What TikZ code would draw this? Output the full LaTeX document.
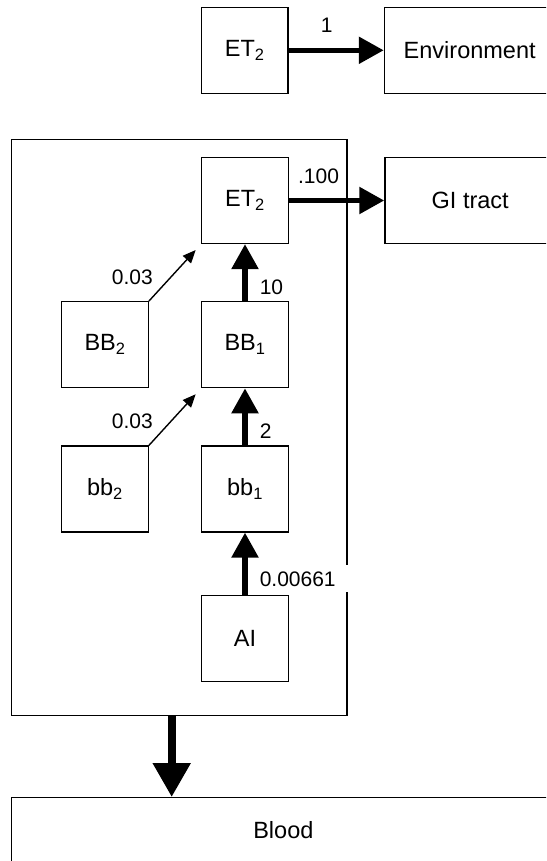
\documentclass[tikz,border=0pt]{standalone}
\usepackage{fontspec}
\setmainfont{Liberation Sans}
\usepackage{tikz}
\usetikzlibrary{arrows.meta, positioning}

\begin{document}
\begin{tikzpicture}[x=1pt, y=-1pt,
    box/.style={draw, rectangle, line width=1.3pt, minimum width=86.6pt, minimum height=86pt, inner sep=0pt, font=\fontsize{23.5}{28}\selectfont},
    wide/.style={box, minimum width=170.6pt},
    lbl/.style={inner sep=2pt, font=\fontsize{21}{25}\selectfont},
    flowarr/.style={line width=5.5pt, -{Triangle[length=25pt, width=26pt]}},
    sidearr/.style={line width=1.4pt, shorten >=8pt, -{Triangle[length=13pt, width=11pt]}},
    bloodarr/.style={line width=8pt, -{Triangle[length=34pt, width=36pt]}}]
  \useasboundingbox (0,0) rectangle (546,861);
  \clip (0,0) rectangle (546,861);

  % top row
  \node[box] (ETout) at (244.7,50.3) {ET\textsubscript{2}};
  \node[wide] (env) at (469.7,50.3) {Environment};
  \draw[flowarr] (ETout) -- (env) node[lbl, pos=0.4, above=13pt] {1};

  % tract with its compartments
  \node[draw, line width=1.3pt, minimum width=335.3pt, minimum height=576.2pt] (tract) at (179.35,427.4) {};
  \node[box] (ET2) at (245,200.5) {ET\textsubscript{2}};
  \node[wide] (gi) at (470.2,200.5) {GI tract};
  \node[box] (BB2) at (105,344.7) {BB\textsubscript{2}};
  \node[box] (BB1) at (245,344.7) {BB\textsubscript{1}};
  \node[box] (bb2) at (105,489) {bb\textsubscript{2}};
  \node[box] (bb1) at (245,489) {bb\textsubscript{1}};
  \node[box] (AI) at (245,638.7) {AI};

  \draw[flowarr] (ET2) -- (gi) node[lbl, pos=0.31, above=12.5pt] {.100};
  \draw[flowarr] (BB1) -- (ET2) node[lbl, pos=0.25, right=10pt] {10};
  \draw[flowarr] (bb1) -- (BB1) node[lbl, pos=0.25, right=10pt] {2};
  \draw[flowarr] (AI) -- (bb1) node[lbl, pos=0.26, right=10pt, fill=white, inner ysep=6pt, text width=92pt, text height=15pt, text depth=0pt] {0.00661};
  \draw[sidearr] (BB2.north east) -- (ET2.south west) node[lbl, pos=0.24, anchor=south east, xshift=-6pt] {0.03};
  \draw[sidearr] (bb2.north east) -- (BB1.south west) node[lbl, pos=0.24, anchor=south east, xshift=-6pt] {0.03};

  % blood
  \node[box, minimum width=543.3pt, minimum height=65.3pt] (blood) at (283.35,830.35) {Blood};
  \coordinate (drop) at (171.7,0);
  \draw[bloodarr] (tract.south -| drop) -- (blood.north -| drop);
\end{tikzpicture}
\end{document}
